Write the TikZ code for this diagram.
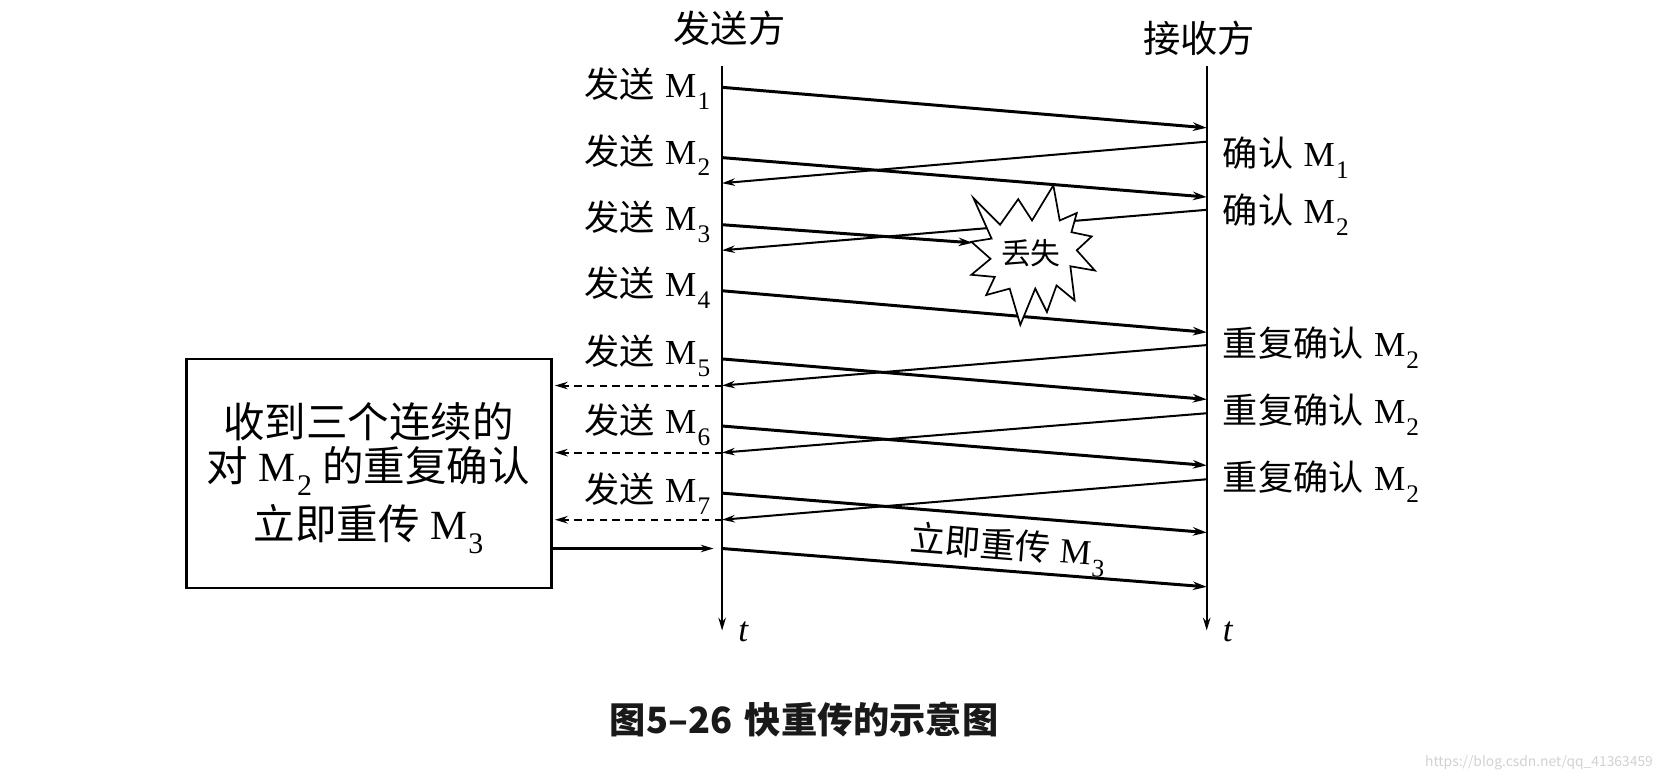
\documentclass[tikz,border=0pt]{standalone}
\usepackage{fontspec}
\usepackage{graphicx}
\setmainfont{Noto Sans CJK SC}
\newfontfamily\tms{Liberation Serif}
\usetikzlibrary{arrows.meta}
\newcommand\Msub[1]{{\tms M\kern0.03em\raisebox{-0.34em}{\scalebox{0.72}{#1}}}}
\tikzset{
  vline/.style={line width=1.9pt, -{Stealth[length=12pt,width=7pt]}},
  data/.style={line width=2.8pt, -{Stealth[length=13pt,width=8pt]}},
  ack/.style={line width=1.9pt, -{Stealth[length=12pt,width=7pt]}},
  dashack/.style={ack, dash pattern=on 7pt off 5pt},
  lab/.style={font=\fontsize{33}{36}\selectfont, inner sep=0pt},
  big/.style={font=\fontsize{39}{42}\selectfont, inner sep=0pt},
}
\begin{document}
\begin{tikzpicture}[x=1pt,y=-1pt]
\useasboundingbox (0,0) rectangle (1568,734);
% lifelines
\coordinate (sTop) at (678,62); \coordinate (sBot) at (678,592);
\coordinate (rTop) at (1133,62); \coordinate (rBot) at (1133,592);
\draw[vline] (sTop) -- (sBot);
\draw[vline] (rTop) -- (rBot);
\node[lab, anchor=base west] (ts) at (693,602) {\tms\itshape t};
\node[lab, anchor=base west] (tr) at (1148,602) {\tms\itshape t};
\node[font=\fontsize{35}{36}\selectfont, inner sep=0pt] (snd) at (685,27) {发送方};
\node[font=\fontsize{35}{36}\selectfont, inner sep=0pt] (rcv) at (1126,36) {接收方};
% endpoints
\coordinate (s1) at (678,82);  \coordinate (r1) at (1133,120);
\coordinate (ra1) at (1133,133); \coordinate (sa1) at (678,172);
\coordinate (s2) at (678,148); \coordinate (r2) at (1133,185);
\coordinate (ra2) at (1133,197); \coordinate (sa2) at (678,235);
\coordinate (s3) at (678,211); \coordinate (lost) at (913,228);
\coordinate (s4) at (678,273); \coordinate (r4) at (1133,312);
\coordinate (ra4) at (1133,324); \coordinate (sa4) at (678,362); \coordinate (d4) at (521,362);
\coordinate (s5) at (678,337); \coordinate (r5) at (1133,375);
\coordinate (ra5) at (1133,388); \coordinate (sa5) at (678,425); \coordinate (d5) at (521,425);
\coordinate (s6) at (678,400); \coordinate (r6) at (1133,437);
\coordinate (ra6) at (1133,450); \coordinate (sa6) at (678,488); \coordinate (d6) at (521,488);
\coordinate (s7) at (678,463); \coordinate (r7) at (1133,500);
\coordinate (s8) at (678,515); \coordinate (r8) at (1133,551);
% messages
\draw[data] (s1) -- (r1);
\draw[ack] (ra1) -- (sa1);
\draw[data] (s2) -- (r2);
\draw[ack] (ra2) -- (sa2);
\draw[data] (s4) -- (r4);
\draw[ack] (ra4) -- (sa4);
\draw[data] (s5) -- (r5);
\draw[ack] (ra5) -- (sa5);
\draw[data] (s6) -- (r6);
\draw[ack] (ra6) -- (sa6);
\draw[data] (s7) -- (r7);
\draw[data] (s8) -- (r8);
\draw[dashack] (sa4) -- (d4);
\draw[dashack] (sa5) -- (d5);
\draw[dashack] (sa6) -- (d6);
% lost burst
\draw[line width=1.6pt, fill=white] (914,186) -- (939,211) -- (956,187) -- (969,207) -- (989,174)
  -- (995,207) -- (1011,200) -- (1006,218) -- (1025,222) -- (1011,235) -- (1028,254)
  -- (1005,250) -- (1009,282) -- (992,268) -- (983,293) -- (972,271) -- (958,305)
  -- (948,271) -- (926,277) -- (934,260) -- (912,258) -- (930,243) -- (912,227)
  -- (931,224) -- cycle;
\node[font=\fontsize{28}{30}\selectfont, inner sep=0pt] (lostlbl) at (968,238) {丢失};
\draw[data] (s3) -- (lost);
% sender labels
\node[lab, anchor=base east] (m1) at (667,92) {发送\hspace{0.3em}\Msub{1}};
\node[lab, anchor=base east] (m2) at (667,154) {发送\hspace{0.3em}\Msub{2}};
\node[lab, anchor=base east] (m3) at (667,216) {发送\hspace{0.3em}\Msub{3}};
\node[lab, anchor=base east] (m4) at (667,278) {发送\hspace{0.3em}\Msub{4}};
\node[lab, anchor=base east] (m5) at (667,342) {发送\hspace{0.3em}\Msub{5}};
\node[lab, anchor=base east] (m6) at (667,407) {发送\hspace{0.3em}\Msub{6}};
\node[lab, anchor=base east] (m7) at (667,472) {发送\hspace{0.3em}\Msub{7}};
% receiver labels
\node[lab, anchor=base west] (a1) at (1148,156) {确认\hspace{0.3em}\Msub{1}};
\node[lab, anchor=base west] (a2) at (1148,210) {确认\hspace{0.3em}\Msub{2}};
\node[lab, anchor=base west] (a3) at (1148,335) {重复确认\hspace{0.3em}\Msub{2}};
\node[lab, anchor=base west] (a4) at (1148,398) {重复确认\hspace{0.3em}\Msub{2}};
\node[lab, anchor=base west] (a5) at (1148,461) {重复确认\hspace{0.3em}\Msub{2}};
% box
\node[draw, line width=2.3pt, minimum width=343pt, minimum height=215pt, inner sep=0pt] (box) at (346.5,444.5) {};
\node[big] (bl1) at (346,396) {收到三个连续的};
\node[big] (bl2) at (346,442) {对\hspace{0.25em}\Msub{2}\hspace{0.25em}的重复确认};
\node[big] (bl3) at (346,497) {立即重传\hspace{0.25em}\Msub{3}};
\coordinate (b0) at (box.east |- s8);
\draw[ack, line width=2.3pt, shorten >=8pt] (b0) -- (s8);
% retransmit label
\node[lab, rotate=-4.5] (rt) at (946,516) {立即重传\hspace{0.3em}\Msub{3}};
% caption
\node[font=\fontsize{34}{36}\selectfont\bfseries, inner sep=0pt, text=black!90] (cap) at (755,676) {图5–26\hspace{0.35em}快重传的示意图};
\node[font=\fontsize{13}{15}\selectfont, inner sep=0pt, text=black!18] (wm) at (1445,716) {https://blog.csdn.net/qq\_41363459};
\end{tikzpicture}
\end{document}
